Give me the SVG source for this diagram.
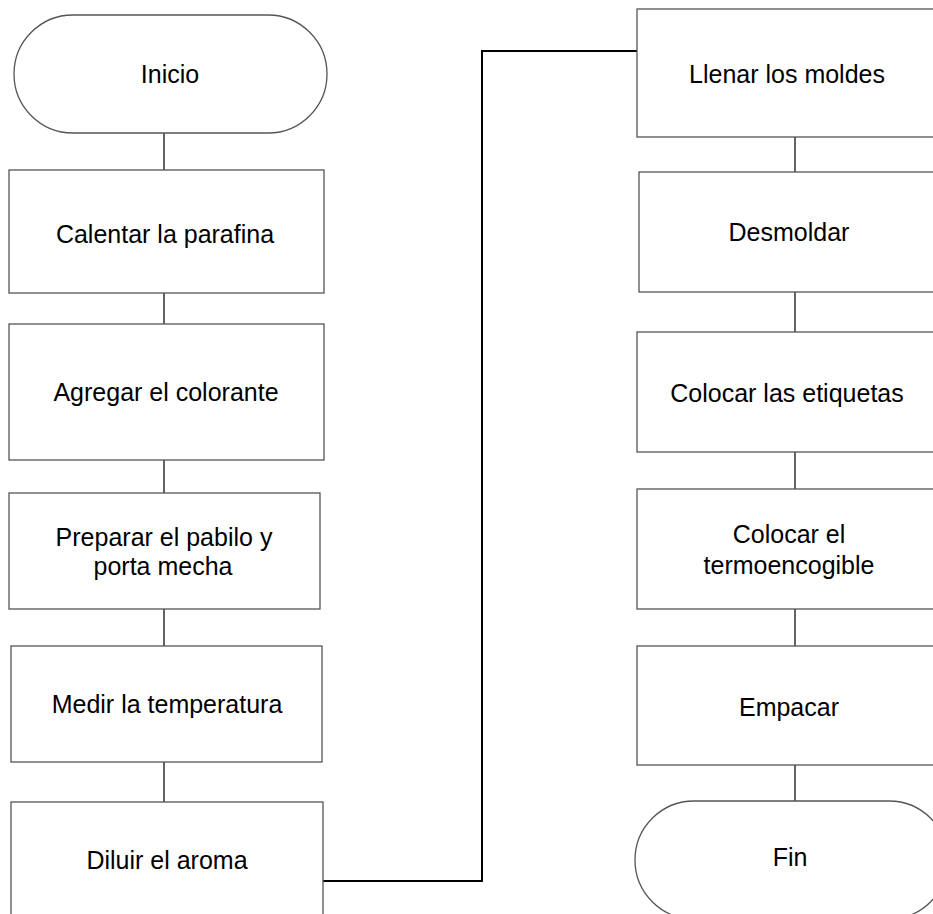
<svg xmlns="http://www.w3.org/2000/svg" width="933" height="914" viewBox="0 0 933 914">
<style>
.box{fill:#fff;stroke:#555;stroke-width:1.3}
.t{font-family:"Liberation Sans",Arial,sans-serif;font-size:25px;fill:#000;text-anchor:middle}
.c{stroke:#111;stroke-width:1.3;fill:none}
.c2{stroke:#000;stroke-width:2;fill:none}
</style>
<rect width="933" height="914" fill="#fff"/>
<g id="connectors">
<line class="c" x1="164" y1="133" x2="164" y2="170"/>
<line class="c" x1="164" y1="293" x2="164" y2="324"/>
<line class="c" x1="164" y1="460" x2="164" y2="493"/>
<line class="c" x1="164" y1="609" x2="164" y2="646"/>
<line class="c" x1="164" y1="762" x2="164" y2="802"/>
<polyline class="c2" points="323,881 482,881 482,51 637,51"/>
<line class="c" x1="795" y1="137" x2="795" y2="172"/>
<line class="c" x1="795" y1="292" x2="795" y2="332"/>
<line class="c" x1="795" y1="452" x2="795" y2="489"/>
<line class="c" x1="795" y1="609" x2="795" y2="646"/>
<line class="c" x1="795" y1="765" x2="795" y2="801"/>
</g>
<g id="inicio"><rect class="box" x="14" y="15" width="313" height="118" rx="59" ry="59"/><text class="t" x="170" y="83">Inicio</text></g>
<g id="calentar"><rect class="box" x="9" y="170" width="315" height="123"/><text class="t" x="165" y="243">Calentar la parafina</text></g>
<g id="agregar"><rect class="box" x="9" y="324" width="315" height="136"/><text class="t" x="166" y="401">Agregar el colorante</text></g>
<g id="preparar"><rect class="box" x="9" y="493" width="311" height="116"/><text class="t" x="164" y="546">Preparar el pabilo y</text><text class="t" x="163" y="575">porta mecha</text></g>
<g id="medir"><rect class="box" x="11" y="646" width="311" height="116"/><text class="t" x="167" y="713">Medir la temperatura</text></g>
<g id="diluir"><rect class="box" x="11" y="802" width="312" height="120"/><text class="t" x="167" y="869">Diluir el aroma</text></g>
<g id="llenar"><rect class="box" x="637" y="9" width="304" height="128"/><text class="t" x="787" y="83">Llenar los moldes</text></g>
<g id="desmoldar"><rect class="box" x="639" y="172" width="302" height="120"/><text class="t" x="789" y="241">Desmoldar</text></g>
<g id="etiquetas"><rect class="box" x="637" y="332" width="304" height="120"/><text class="t" x="787" y="402">Colocar las etiquetas</text></g>
<g id="termo"><rect class="box" x="637" y="489" width="304" height="120"/><text class="t" x="789" y="543">Colocar el</text><text class="t" x="789" y="574">termoencogible</text></g>
<g id="empacar"><rect class="box" x="637" y="646" width="304" height="119"/><text class="t" x="789" y="716">Empacar</text></g>
<g id="fin"><rect class="box" x="635" y="801" width="313" height="118" rx="59" ry="59"/><text class="t" x="790" y="866">Fin</text></g>
</svg>
